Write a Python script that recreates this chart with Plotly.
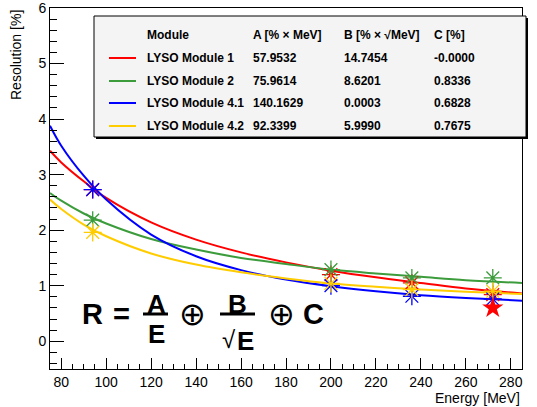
import plotly.graph_objects as go

# ---------------- data ----------------
energies = [94, 200, 236, 272]
res_m1 = [2.73, 1.20, 1.05, 0.84]
res_m2 = [2.18, 1.29, 1.14, 1.14]
res_m41 = [2.73, 1.00, 0.81, 0.76]
res_m42 = [1.96, 1.04, 0.93, 0.90]
star_e = [272]
star_r = [0.60]

# fitted curves
fit_e = [75, 80, 90, 100, 120, 140, 160, 180, 200, 220, 240, 260, 285]
fit_m1 = [3.43, 3.22, 2.88, 2.58, 2.14, 1.83, 1.60, 1.42, 1.27, 1.15, 1.05, 0.95, 0.86]
fit_m2 = [2.67, 2.53, 2.30, 2.12, 1.84, 1.65, 1.50, 1.39, 1.29, 1.22, 1.16, 1.10, 1.05]
fit_m41 = [3.88, 3.52, 2.98, 2.55, 1.92, 1.53, 1.28, 1.11, 0.99, 0.90, 0.83, 0.78, 0.73]
fit_m42 = [2.55, 2.38, 2.10, 1.89, 1.58, 1.38, 1.24, 1.13, 1.04, 0.98, 0.93, 0.89, 0.85]

modules = ["LYSO Module 1", "LYSO Module 2", "LYSO Module 4.1", "LYSO Module 4.2"]
par_a = ["57.9532", "75.9614", "140.1629", "92.3399"]
par_b = ["14.7454", "8.6201", "0.0003", "5.9990"]
par_c = ["-0.0000", "0.8336", "0.6828", "0.7675"]
colors = ["#ff0000", "#3c9c3c", "#0000ff", "#ffcc00"]

FONT = "Liberation Sans, Arial, sans-serif"

fig = go.Figure()
fits = [fit_m1, fit_m2, fit_m41, fit_m42]
pts = [res_m1, res_m2, res_m41, res_m42]
for fy, c in zip(fits, colors):
    fig.add_trace(go.Scatter(x=fit_e, y=fy, mode="lines", line=dict(color=c, width=2, shape="spline"),
                             showlegend=False, hoverinfo="skip"))
for py_, c in zip(pts, colors):
    fig.add_trace(go.Scatter(x=energies, y=py_, mode="markers",
                             marker=dict(symbol="asterisk-open", size=15, color=c,
                                         line=dict(color=c, width=1.3)),
                             showlegend=False))
fig.add_trace(go.Scatter(x=star_e, y=star_r, mode="markers",
                         marker=dict(symbol="star", size=16, color="#ff0000",
                                     line=dict(color="#ff0000", width=0)),
                         showlegend=False))

# pixel -> paper helpers
L, R, T, B = 50, 522, 8, 369
def px(x):
    return (x - L) / (R - L)
def py(y):
    return (B - y) / (B - T)

shapes = []
ann = []

# legend box (shadow + box)
shapes.append(dict(type="rect", xref="paper", yref="paper", x0=px(96), x1=px(528), y0=py(139), y1=py(18),
                   fillcolor="black", line=dict(width=0), layer="above"))
shapes.append(dict(type="rect", xref="paper", yref="paper", x0=px(94), x1=px(526), y0=py(137), y1=py(16),
                   fillcolor="#f4f4f4", line=dict(color="black", width=1), layer="above"))

hdr_y = 35
row_y = [58, 81, 103, 126]
col_x = [145, 251, 342, 432]
headers = ["Module", "A [% × MeV]", "B [% × √MeV]", "C [%]"]
for hx, h in zip(col_x, headers):
    ann.append(dict(x=px(hx), y=py(hdr_y), xref="paper", yref="paper", text="<b>%s</b>" % h,
                    showarrow=False, xanchor="left", yanchor="middle",
                    font=dict(family=FONT, size=12, color="black")))
for i in range(4):
    shapes.append(dict(type="line", xref="paper", yref="paper", x0=px(109), x1=px(136),
                       y0=py(row_y[i]), y1=py(row_y[i]), line=dict(color=colors[i], width=2), layer="above"))
    for cx, t in zip(col_x, [modules[i], par_a[i], par_b[i], par_c[i]]):
        ann.append(dict(x=px(cx), y=py(row_y[i]), xref="paper", yref="paper", text="<b>%s</b>" % t,
                        showarrow=False, xanchor="left", yanchor="middle",
                        font=dict(family=FONT, size=12, color="black")))

# formula
def txt(x, y, s, size, bold=True):
    ann.append(dict(x=px(x), y=py(y), xref="paper", yref="paper",
                    text=("<b>%s</b>" % s) if bold else s, showarrow=False,
                    xanchor="center", yanchor="middle",
                    font=dict(family=FONT, size=size, color="black")))
txt(92.5, 314, "R", 29)
txt(121.5, 314, "=", 29)
txt(156, 304, "A", 26)
txt(156, 334, "E", 26)
txt(192.5, 314, "⊕", 32, bold=False)
txt(237, 304, "B", 26)
txt(229, 339, "√", 24, bold=False)
txt(245.5, 341, "E", 26)
txt(281, 314, "⊕", 32, bold=False)
txt(313.5, 314, "C", 29)
for x0, x1 in [(143, 168), (220, 255)]:
    shapes.append(dict(type="line", xref="paper", yref="paper", x0=px(x0), x1=px(x1), y0=py(314), y1=py(314),
                       line=dict(color="black", width=3)))

# axis titles
ann.append(dict(x=1, y=py(398), xref="paper", yref="paper", text="Energy [MeV]", showarrow=False,
                xanchor="right", yanchor="middle", font=dict(family=FONT, size=14, color="black")))
ann.append(dict(x=px(16), y=1, xref="paper", yref="paper", text="Resolution [%]", showarrow=False,
                textangle=-90, xanchor="center", yanchor="top", font=dict(family=FONT, size=14, color="black")))

fig.update_layout(
    width=537, height=407,
    margin=dict(l=L, r=537 - R, t=T, b=407 - B),
    plot_bgcolor="white", paper_bgcolor="white",
    shapes=shapes, annotations=ann,
    font=dict(family=FONT, size=14, color="black"),
    xaxis=dict(range=[75, 285], tick0=0, dtick=20, ticks="inside", ticklen=11, tickwidth=1, tickcolor="black",
               showline=True, linecolor="black", linewidth=1, mirror=True, showgrid=False, zeroline=False,
               automargin=False, ticklabeloverflow="allow",
               minor=dict(dtick=5, ticks="inside", ticklen=5, tickcolor="black", showgrid=False),
               tickfont=dict(family=FONT, size=14, color="black")),
    yaxis=dict(range=[-0.5, 6.0], tick0=0, dtick=1, ticks="inside", ticklen=14, tickwidth=1, tickcolor="black",
               showline=True, linecolor="black", linewidth=1, mirror=True, showgrid=False, zeroline=False,
               automargin=False, ticklabeloverflow="allow",
               minor=dict(dtick=0.2, ticks="inside", ticklen=7, tickcolor="black", showgrid=False),
               tickfont=dict(family=FONT, size=14, color="black")),
)

fig.write_html("out.html")
